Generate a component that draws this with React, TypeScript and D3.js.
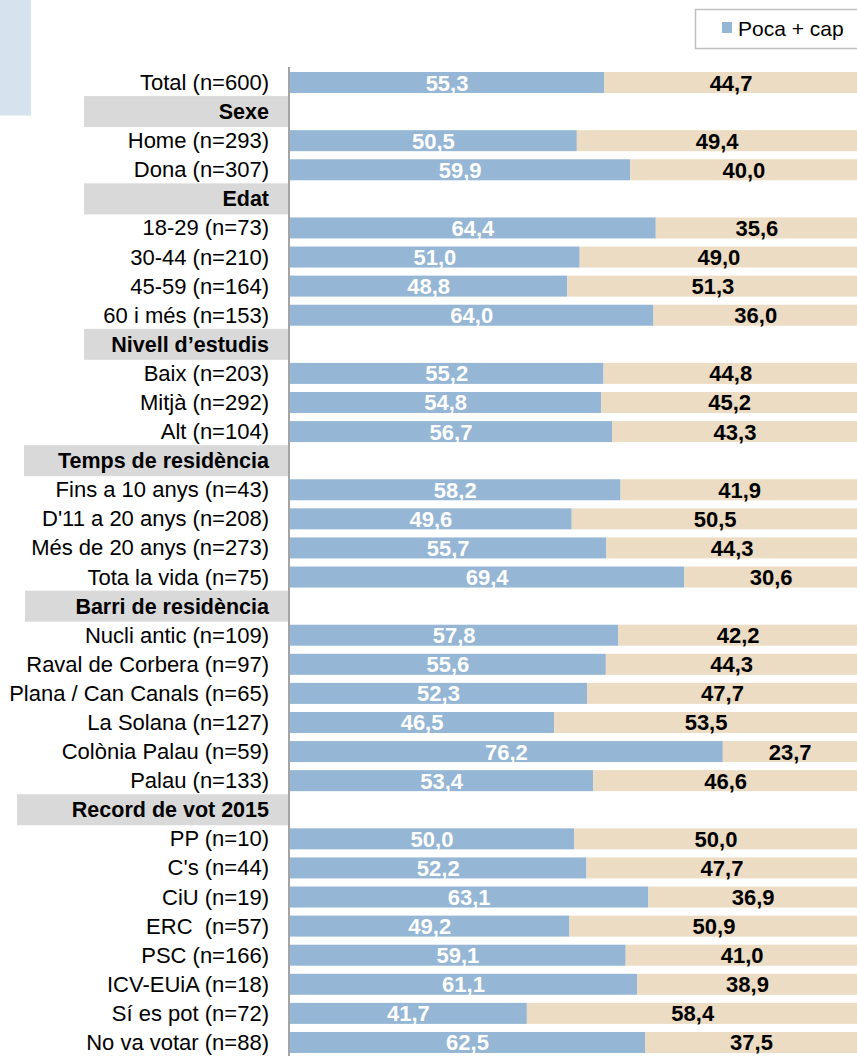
import React from "react";
import * as d3 from "d3";

const rowLabels = [
  "Total (n=600)",
  "Sexe",
  "Home (n=293)",
  "Dona (n=307)",
  "Edat",
  "18-29 (n=73)",
  "30-44 (n=210)",
  "45-59 (n=164)",
  "60 i més (n=153)",
  "Nivell d’estudis",
  "Baix (n=203)",
  "Mitjà (n=292)",
  "Alt (n=104)",
  "Temps de residència",
  "Fins a 10 anys (n=43)",
  "D'11 a 20 anys (n=208)",
  "Més de 20 anys (n=273)",
  "Tota la vida (n=75)",
  "Barri de residència",
  "Nucli antic (n=109)",
  "Raval de Corbera (n=97)",
  "Plana / Can Canals (n=65)",
  "La Solana (n=127)",
  "Colònia Palau (n=59)",
  "Palau (n=133)",
  "Record de vot 2015",
  "PP (n=10)",
  "C's (n=44)",
  "CiU (n=19)",
  "ERC  (n=57)",
  "PSC (n=166)",
  "ICV-EUiA (n=18)",
  "Sí es pot (n=72)",
  "No va votar (n=88)",
];

const headerLabels = [
  "Sexe",
  "Edat",
  "Nivell d’estudis",
  "Temps de residència",
  "Barri de residència",
  "Record de vot 2015",
];

// left edge of the grey header boxes (style)
const headerBoxLeft = [84, 84, 84, 24, 25, 17];

// values for non-header rows, in order
const pocaCap = [
  55.3, 50.5, 59.9, 64.4, 51.0, 48.8, 64.0, 55.2, 54.8, 56.7, 58.2, 49.6, 55.7,
  69.4, 57.8, 55.6, 52.3, 46.5, 76.2, 53.4, 50.0, 52.2, 63.1, 49.2, 59.1, 61.1,
  41.7, 62.5,
];
const moltaBastant = [
  44.7, 49.4, 40.0, 35.6, 49.0, 51.3, 36.0, 44.8, 45.2, 43.3, 41.9, 50.5, 44.3,
  30.6, 42.2, 44.3, 47.7, 53.5, 23.7, 46.6, 50.0, 47.7, 36.9, 50.9, 41.0, 38.9,
  58.4, 37.5,
];

const legendLabels = ["Poca + cap"];

const W = 857;
const H = 1056;
const BLUE = "#95b6d4";
const BEIGE = "#ebdcc3";
const GREY = "#d9d9d9";
const FONT = "'Liberation Sans', Arial, sans-serif";

export default function App() {
  const x = d3.scaleLinear().domain([0, 100]).range([290, 858]);
  const y = d3
    .scalePoint<number>()
    .domain(d3.range(rowLabels.length))
    .range([82.5, 82.5 + 33 * 29.09]);
  const barH = 21;

  let vi = 0;
  let hi = 0;
  const rows = rowLabels.map((label, i) => {
    const isHeader = headerLabels.includes(label);
    if (isHeader) {
      const r = { label, i, isHeader, boxLeft: headerBoxLeft[hi] };
      hi++;
      return r;
    }
    const r = { label, i, isHeader, a: pocaCap[vi], b: moltaBastant[vi] };
    vi++;
    return r;
  });

  return (
    <svg
      width={W}
      height={H}
      style={{ position: "absolute", left: 0, top: 0, display: "block" }}
      fontFamily={FONT}
    >
      <rect x={0} y={0} width={W} height={H} fill="#ffffff" />
      <rect x={0} y={0} width={31} height={115.5} fill="#d6e3ee" />

      {/* legend */}
      <rect
        x={695.5}
        y={9.5}
        width={180}
        height={39}
        fill="#ffffff"
        stroke="#c0c0c0"
        strokeWidth={1.5}
      />
      <rect x={722} y={22} width={10} height={11} fill={BLUE} />
      <text x={738} y={36} fontSize={21} fill="#000">
        {legendLabels[0]}
      </text>

      {rows.map((r: any) => {
        const cy = y(r.i)!;
        if (r.isHeader) {
          return (
            <g key={r.i}>
              <rect
                x={r.boxLeft}
                y={cy - 15.5}
                width={288 - r.boxLeft}
                height={31}
                fill={GREY}
              />
              <text
                x={269}
                y={cy + 7.5}
                textAnchor="end"
                fontSize={21.5}
                fontWeight="bold"
                fill="#000"
              >
                {r.label}
              </text>
            </g>
          );
        }
        const x0 = x(0);
        const x1 = x(r.a);
        const x2 = x(r.a + r.b);
        const fmt = (v: number) => v.toFixed(1).replace(".", ",");
        return (
          <g key={r.i}>
            <text
              x={269}
              y={cy + 7.5}
              textAnchor="end"
              fontSize={22}
              fill="#000"
              style={{ whiteSpace: "pre" }}
            >
              {r.label}
            </text>
            <rect x={x0} y={cy - barH / 2} width={x1 - x0} height={barH} fill={BLUE} />
            <rect x={x1} y={cy - barH / 2} width={x2 - x1} height={barH} fill={BEIGE} />
            <text
              x={(x0 + x1) / 2}
              y={cy + 8}
              textAnchor="middle"
              fontSize={22}
              fontWeight="bold"
              fill="#ffffff"
            >
              {fmt(r.a)}
            </text>
            <text
              x={(x1 + x2) / 2}
              y={cy + 8}
              textAnchor="middle"
              fontSize={22}
              fontWeight="bold"
              fill="#000"
            >
              {fmt(r.b)}
            </text>
          </g>
        );
      })}

      <line x1={289} x2={289} y1={67} y2={H} stroke="#868686" strokeWidth={1.5} />
    </svg>
  );
}
